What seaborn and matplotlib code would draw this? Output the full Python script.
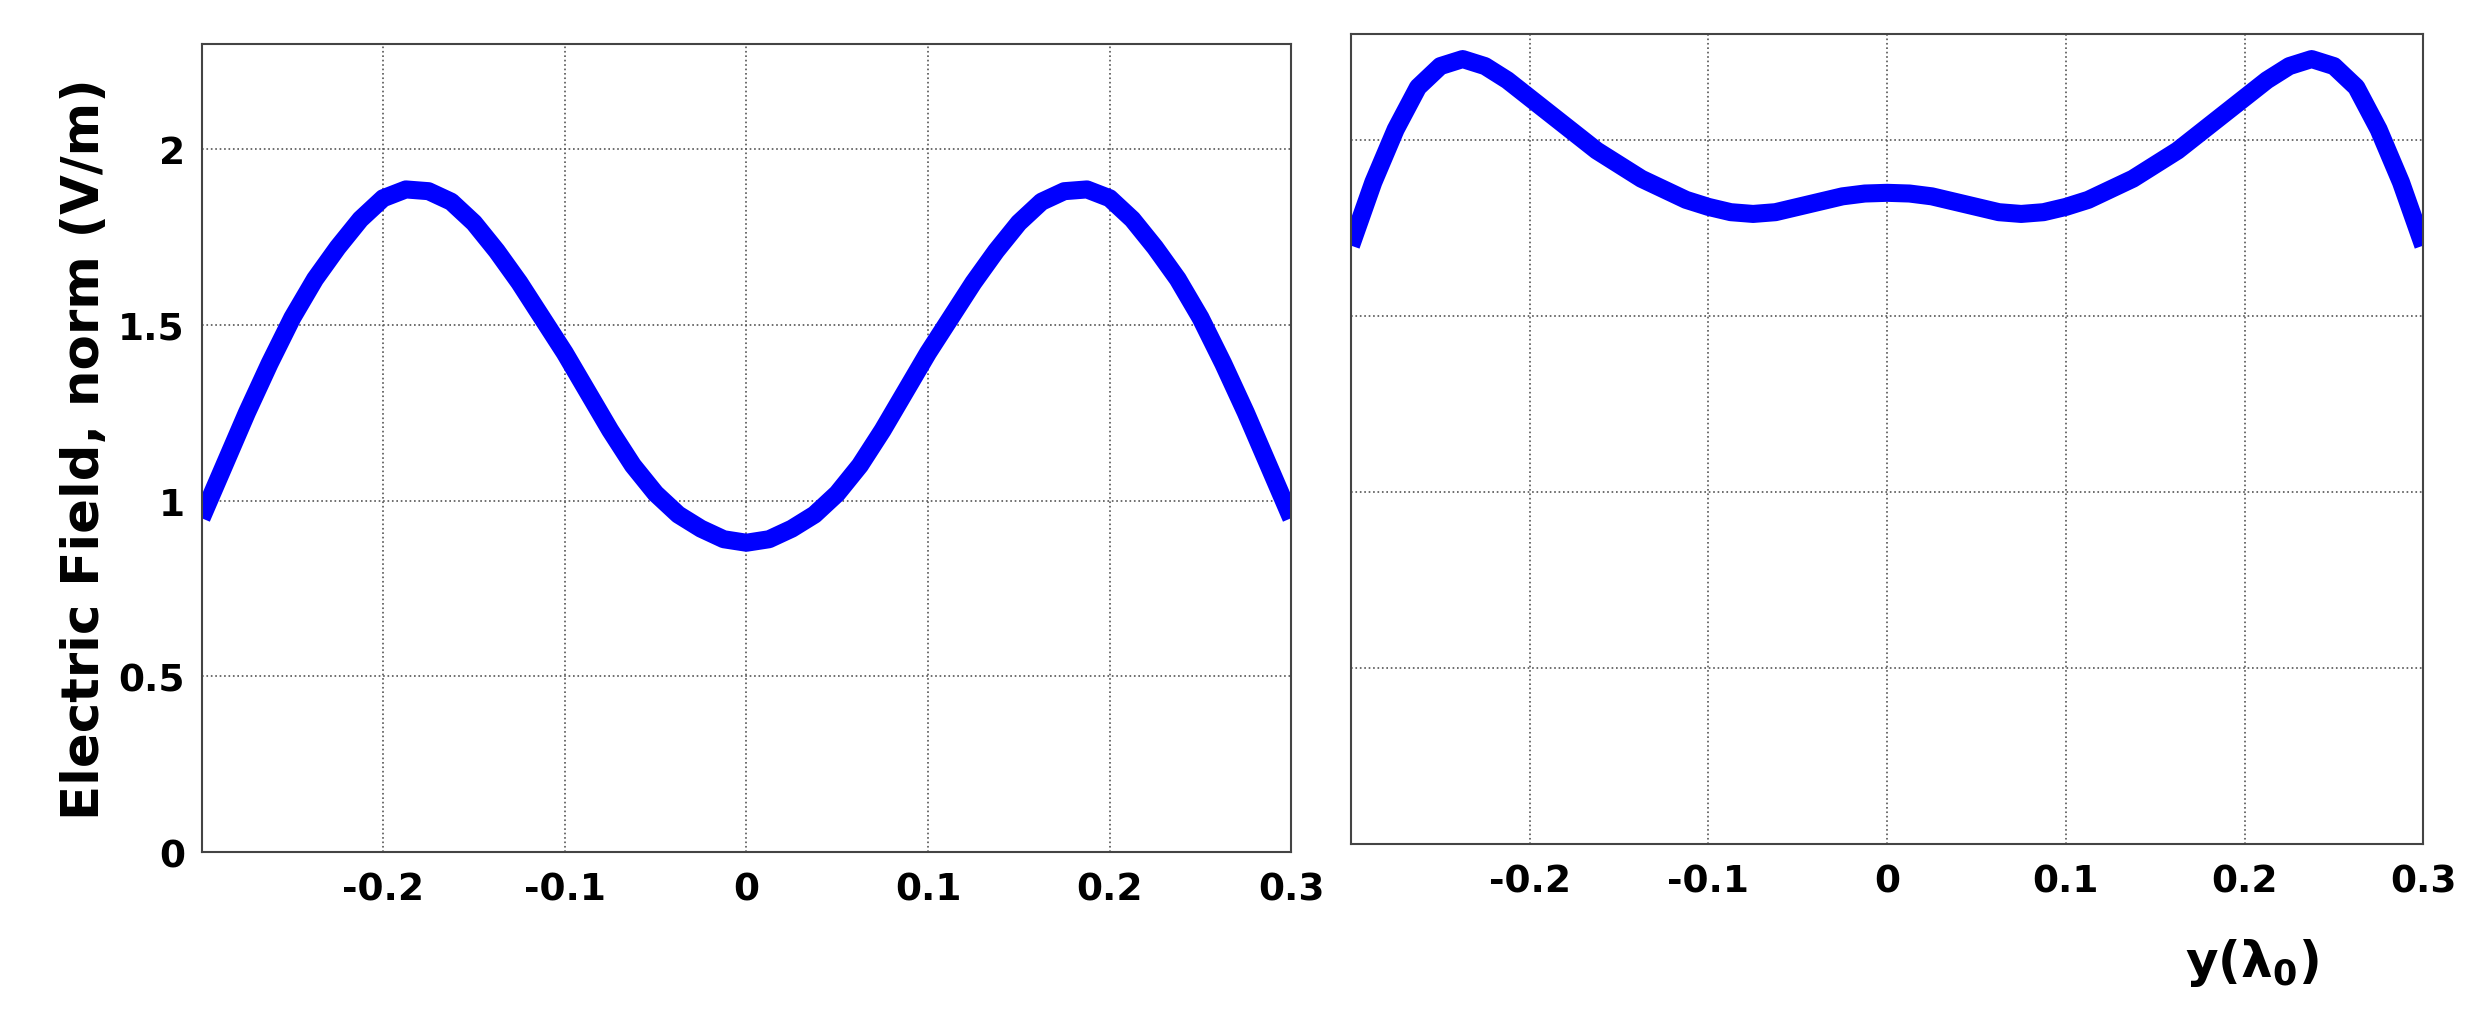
import numpy as np
import pandas as pd
import seaborn as sns
import matplotlib.pyplot as plt

# values (positive half, mirrored about 0)
x_half = [0.0, 0.0125, 0.025, 0.0375, 0.05, 0.0625, 0.075, 0.0875, 0.1, 0.1125, 0.125, 0.1375,
          0.15, 0.1625, 0.175, 0.1875, 0.2, 0.2125, 0.225, 0.2375, 0.25, 0.2625, 0.275, 0.2875, 0.3]
e_left_half = [0.88, 0.89, 0.92, 0.96, 1.02, 1.1, 1.2, 1.31, 1.42, 1.52, 1.62, 1.71,
               1.79, 1.85, 1.88, 1.885, 1.86, 1.8, 1.72, 1.63, 1.52, 1.39, 1.25, 1.1, 0.95]
e_right_half = [1.85, 1.848, 1.84, 1.825, 1.81, 1.795, 1.79, 1.795, 1.81, 1.83, 1.86, 1.89,
                1.93, 1.97, 2.02, 2.07, 2.12, 2.17, 2.21, 2.23, 2.21, 2.15, 2.03, 1.88, 1.7]
x_all = [-v for v in x_half[:0:-1]] + x_half
e_left = e_left_half[:0:-1] + e_left_half
e_right = e_right_half[:0:-1] + e_right_half
xticks = [-0.2, -0.1, 0, 0.1, 0.2, 0.3]
xticklabels = ['-0.2', '-0.1', '0', '0.1', '0.2', '0.3']
yticks = [0, 0.5, 1, 1.5, 2]
yticklabels = ['0', '0.5', '1', '1.5', '2']

sns.set_style('white')
fig = plt.figure(figsize=(24.88, 10.12), dpi=100)
ax1 = fig.add_axes([0.081, 0.157, 0.438, 0.799])
ax2 = fig.add_axes([0.543, 0.165, 0.431, 0.800])

for ax, ys in [(ax1, e_left), (ax2, e_right)]:
    df = pd.DataFrame({'x': x_all, 'E': ys})
    sns.lineplot(data=df, x='x', y='E', ax=ax, color='#0000ff', linewidth=13,
                 solid_capstyle='butt', solid_joinstyle='round')
    ax.set_xlim(-0.3, 0.3)
    ax.set_ylim(0, 2.3)
    ax.set_xticks(xticks)
    ax.set_yticks(yticks)
    ax.grid(True, color='#555555', linestyle=':', linewidth=1.2)
    for s in ax.spines.values():
        s.set_color('#444444')
        s.set_linewidth(1.5)
    ax.set_xlabel('')
    ax.set_ylabel('')
    ax.set_xticklabels(xticklabels, fontsize=27, fontweight='bold', color='black')
    ax.tick_params(axis='x', pad=14, length=0)
    ax.tick_params(axis='y', length=0)

ax1.set_yticklabels(yticklabels, fontsize=27, fontweight='bold', color='black')
ax1.tick_params(axis='y', pad=12)
ax2.set_yticklabels([])
ax1.set_ylabel('Electric Field, norm (V/m)', fontsize=37, fontweight='bold', labelpad=6, color='black')
fig.text(0.905, 0.035, r'y($\mathbf{\lambda_0}$)', fontsize=36, fontweight='bold', ha='center', color='black')

fig.savefig('out.png', dpi=100)
